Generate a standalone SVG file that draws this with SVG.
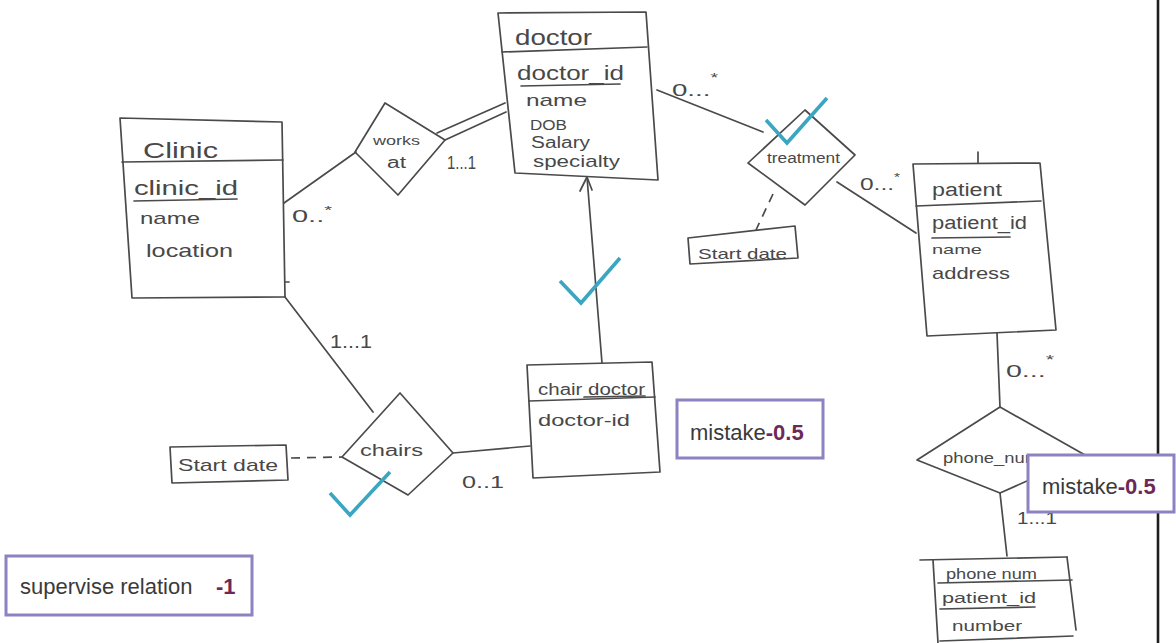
<svg xmlns="http://www.w3.org/2000/svg" width="1176" height="643" viewBox="0 0 1176 643">
  <defs>
    <style>
      .pen { fill: none; stroke: #4a4a4a; stroke-width: 1.7; stroke-linejoin: round; stroke-linecap: round; }
      .dash { fill: none; stroke: #4a4a4a; stroke-width: 1.7; stroke-dasharray: 9 7; }
      .hand { font-family: "Liberation Sans", "DejaVu Sans", sans-serif; fill: #484848; }
      .tick { fill: none; stroke: #3aa6c2; stroke-width: 3.6; stroke-linecap: butt; stroke-linejoin: miter; }
      .note { fill: #ffffff; stroke: #8d82c2; stroke-width: 3; }
      .noteText { font-family: "Liberation Sans", Arial, sans-serif; font-size: 22px; fill: #3a3a3a; }
      .penalty { font-weight: bold; fill: #6b2a58; }
    </style>
  </defs>

  <rect x="0" y="0" width="1176" height="643" fill="#ffffff"/>

  <!-- page edge on the right -->
  <line x1="1158" y1="0" x2="1158" y2="643" stroke="#1e1e1e" stroke-width="2.6"/>

  <!-- connectors -->
  <g id="connectors">
    <!-- Clinic - works at -->
    <line class="pen" x1="284" y1="203" x2="356" y2="152"/>
    <!-- works at = doctor (double line) -->
    <line class="pen" x1="437" y1="133" x2="505" y2="103"/>
    <line class="pen" x1="445" y1="140" x2="506" y2="112"/>
    <!-- doctor - treatment -->
    <line class="pen" x1="657" y1="90" x2="763" y2="132"/>
    <!-- treatment - patient -->
    <line class="pen" x1="837" y1="182" x2="916" y2="233"/>
    <!-- treatment - Start date -->
    <line class="dash" x1="773" y1="194" x2="756" y2="230"/>
    <!-- patient - phone_num -->
    <line class="pen" x1="997" y1="333" x2="1000" y2="407"/>
    <!-- phone_num - phone num -->
    <line class="pen" x1="1000" y1="493" x2="1007" y2="556"/>
    <!-- Clinic - chairs -->
    <line class="pen" x1="285" y1="297" x2="373" y2="412"/>
    <!-- chairs - chair doctor -->
    <line class="pen" x1="453" y1="453" x2="530" y2="446"/>
    <!-- chairs - Start date -->
    <line class="dash" x1="291" y1="458" x2="342" y2="457"/>
    <!-- chair doctor -> doctor -->
    <line class="pen" x1="602" y1="363" x2="587" y2="177"/>
    <polyline class="pen" points="580,191 587,177 592,190"/>

    <!-- multiplicities -->
    <text class="hand" x="292" y="222" font-size="16" textLength="40" lengthAdjust="spacingAndGlyphs">0..<tspan dy="-8" font-size="11">*</tspan></text>
    <text class="hand" x="447" y="169" font-size="19" textLength="29" lengthAdjust="spacingAndGlyphs">1...1</text>
    <text class="hand" x="672" y="96" font-size="17" textLength="46" lengthAdjust="spacingAndGlyphs">0...<tspan dy="-14" font-size="12">*</tspan></text>
    <text class="hand" x="860" y="190" font-size="16" textLength="40" lengthAdjust="spacingAndGlyphs">0...<tspan dy="-9" font-size="10">*</tspan></text>
    <text class="hand" x="1006" y="377" font-size="16" textLength="48" lengthAdjust="spacingAndGlyphs">0...<tspan dy="-13" font-size="12">*</tspan></text>
    <text class="hand" x="1017" y="524" font-size="16" textLength="40" lengthAdjust="spacingAndGlyphs">1...1</text>
    <text class="hand" x="330" y="348" font-size="18" textLength="42" lengthAdjust="spacingAndGlyphs">1...1</text>
    <text class="hand" x="462" y="488" font-size="17" textLength="42" lengthAdjust="spacingAndGlyphs">0..1</text>
  </g>

  <!-- Clinic entity -->
  <g id="clinic">
    <polygon class="pen" points="120,118 282,122 285,297 132,298"/>
    <line class="pen" x1="122" y1="162" x2="283" y2="160"/>
    <line class="pen" x1="285" y1="282" x2="289" y2="282"/>
    <text class="hand" x="143" y="158" font-size="22" textLength="75" lengthAdjust="spacingAndGlyphs">Clinic</text>
    <text class="hand" x="134" y="195" font-size="20" textLength="104" lengthAdjust="spacingAndGlyphs">clinic_id</text>
    <line class="pen" x1="134" y1="201" x2="237" y2="199"/>
    <text class="hand" x="140" y="224" font-size="17" textLength="60" lengthAdjust="spacingAndGlyphs">name</text>
    <text class="hand" x="146" y="257" font-size="19" textLength="87" lengthAdjust="spacingAndGlyphs">location</text>
  </g>

  <!-- works at relationship -->
  <g id="works-at">
    <polygon class="pen" points="385,103 445,140 398,195 355,152"/>
    <text class="hand" x="373" y="145" font-size="13" textLength="47" lengthAdjust="spacingAndGlyphs">works</text>
    <text class="hand" x="387" y="168" font-size="16" textLength="19" lengthAdjust="spacingAndGlyphs">at</text>
  </g>

  <!-- doctor entity -->
  <g id="doctor">
    <polygon class="pen" points="498,13 646,12 658,180 515,173"/>
    <line class="pen" x1="502" y1="52" x2="647" y2="47"/>
    <text class="hand" x="515" y="45" font-size="22" textLength="77" lengthAdjust="spacingAndGlyphs">doctor</text>
    <text class="hand" x="517" y="80" font-size="20" textLength="107" lengthAdjust="spacingAndGlyphs">doctor_id</text>
    <line class="pen" x1="521" y1="86" x2="620" y2="84"/>
    <text class="hand" x="526" y="106" font-size="17" textLength="61" lengthAdjust="spacingAndGlyphs">name</text>
    <text class="hand" x="530" y="130" font-size="15" textLength="37" lengthAdjust="spacingAndGlyphs">DOB</text>
    <text class="hand" x="531" y="148" font-size="16" textLength="59" lengthAdjust="spacingAndGlyphs">Salary</text>
    <text class="hand" x="533" y="167" font-size="17" textLength="87" lengthAdjust="spacingAndGlyphs">specialty</text>
  </g>

  <!-- treatment relationship -->
  <g id="treatment">
    <polygon class="pen" points="805,110 855,155 805,205 748,163"/>
    <text class="hand" x="767" y="163" font-size="14" textLength="73" lengthAdjust="spacingAndGlyphs">treatment</text>
  </g>

  <!-- treatment start date attribute -->
  <g id="treatment-start-date">
    <polygon class="pen" points="688,238 795,226 798,258 690,264"/>
    <text class="hand" x="698" y="259" font-size="15" textLength="89" lengthAdjust="spacingAndGlyphs">Start date</text>
  </g>

  <!-- patient entity -->
  <g id="patient">
    <polygon class="pen" points="913,164 1040,163 1056,330 927,336"/>
    <line class="pen" x1="916" y1="206" x2="1041" y2="201"/>
    <line class="pen" x1="978" y1="152" x2="978" y2="163"/>
    <text class="hand" x="932" y="196" font-size="18" textLength="70" lengthAdjust="spacingAndGlyphs">patient</text>
    <text class="hand" x="932" y="229" font-size="18" textLength="95" lengthAdjust="spacingAndGlyphs">patient_id</text>
    <line class="pen" x1="932" y1="238" x2="1010" y2="237"/>
    <text class="hand" x="932" y="254" font-size="13" textLength="50" lengthAdjust="spacingAndGlyphs">name</text>
    <text class="hand" x="932" y="279" font-size="17" textLength="78" lengthAdjust="spacingAndGlyphs">address</text>
  </g>

  <!-- phone_num relationship -->
  <g id="phone-num-rel">
    <polygon class="pen" points="1000,407 1085,455 1000,493 917,460"/>
    <text class="hand" x="943" y="463" font-size="14" textLength="97" lengthAdjust="spacingAndGlyphs">phone_num</text>
  </g>

  <!-- phone num table -->
  <g id="phone-num">
    <line class="pen" x1="920" y1="560" x2="1067" y2="557"/>
    <line class="pen" x1="933" y1="560" x2="938" y2="643"/>
    <line class="pen" x1="1067" y1="557" x2="1076" y2="630"/>
    <line class="pen" x1="938" y1="583" x2="1072" y2="580"/>
    <line class="pen" x1="940" y1="641" x2="1073" y2="636"/>
    <text class="hand" x="946" y="579" font-size="14" textLength="91" lengthAdjust="spacingAndGlyphs">phone num</text>
    <text class="hand" x="942" y="603" font-size="14" textLength="94" lengthAdjust="spacingAndGlyphs">patient_id</text>
    <line class="pen" x1="940" y1="609" x2="1035" y2="607"/>
    <text class="hand" x="952" y="631" font-size="14" textLength="70" lengthAdjust="spacingAndGlyphs">number</text>
  </g>

  <!-- chairs relationship -->
  <g id="chairs">
    <polygon class="pen" points="400,393 453,453 408,495 342,457"/>
    <text class="hand" x="360" y="456" font-size="16" textLength="63" lengthAdjust="spacingAndGlyphs">chairs</text>
  </g>

  <!-- chairs start date attribute -->
  <g id="chairs-start-date">
    <polygon class="pen" points="170,447 286,445 288,480 172,483"/>
    <text class="hand" x="178" y="471" font-size="17" textLength="100" lengthAdjust="spacingAndGlyphs">Start date</text>
  </g>

  <!-- chair doctor entity -->
  <g id="chair-doctor">
    <polygon class="pen" points="527,365 652,362 660,472 533,478"/>
    <line class="pen" x1="529" y1="401" x2="655" y2="397"/>
    <text class="hand" x="538" y="395" font-size="16" textLength="107" lengthAdjust="spacingAndGlyphs">chair doctor</text>
    <line class="pen" x1="584" y1="397" x2="645" y2="396"/>
    <text class="hand" x="538" y="426" font-size="16" textLength="92" lengthAdjust="spacingAndGlyphs">doctor-id</text>
  </g>

  <!-- check marks -->
  <g id="checks">
    <polyline class="tick" points="766,120 787,143 827,98"/>
    <polyline class="tick" points="560,281 581,303 620,258"/>
    <polyline class="tick" points="330,493 350,515 390,472"/>
  </g>

  <!-- remarks -->
  <g id="note-chair-doctor">
    <rect class="note" x="677" y="400" width="146" height="58"/>
    <text class="noteText" x="690" y="440">mistake<tspan class="penalty">-0.5</tspan></text>
  </g>
  <g id="note-phone-num">
    <rect class="note" x="1028" y="455" width="146" height="57"/>
    <text class="noteText" x="1042" y="494">mistake<tspan class="penalty">-0.5</tspan></text>
  </g>
  <g id="note-supervise">
    <rect class="note" x="6" y="556" width="246" height="59"/>
    <text class="noteText" x="20" y="594">supervise relation</text>
    <text class="noteText penalty" x="216" y="594">-1</text>
  </g>
</svg>
